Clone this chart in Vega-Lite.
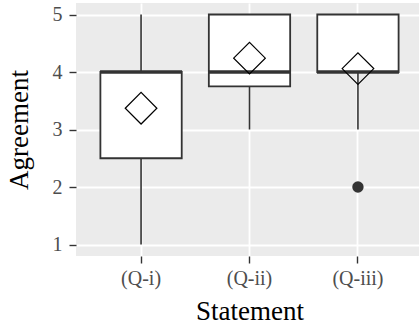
{
  "$schema": "https://vega.github.io/schema/vega-lite/v6.json",
  "width": 347,
  "height": 253,
  "autosize": {"type": "none"},
  "padding": {"left": 76, "top": 3, "right": 0, "bottom": 68},
  "background": "white",
  "config": {
    "view": {"fill": "#EBEBEB", "stroke": null},
    "font": "Liberation Serif",
    "axis": {
      "domain": false,
      "tickColor": "#333333",
      "tickWidth": 1.4,
      "tickSize": 7,
      "labelColor": "#4D4D4D",
      "labelFont": "Liberation Serif",
      "labelFontSize": 20,
      "titleFont": "Liberation Serif",
      "titleFontSize": 27,
      "titleFontWeight": "normal",
      "titleColor": "black",
      "gridColor": "white"
    }
  },
  "datasets": {
    "stats": [
      {"Statement": "(Q-i)", "lower": 1, "q1": 2.5, "median": 4, "q3": 4, "upper": 5, "mean": 3.37},
      {"Statement": "(Q-ii)", "lower": 3, "q1": 3.75, "median": 4, "q3": 5, "upper": 5, "mean": 4.24},
      {"Statement": "(Q-iii)", "lower": 3, "q1": 4, "median": 4, "q3": 5, "upper": 5, "mean": 4.06}
    ],
    "outliers": [
      {"Statement": "(Q-iii)", "value": 2}
    ]
  },
  "layer": [
    {
      "data": {"name": "stats"},
      "mark": {"type": "rule", "color": "#333333", "strokeWidth": 1.6},
      "encoding": {
        "x": {
          "field": "Statement", "type": "nominal", "sort": null,
          "scale": {"type": "band", "paddingInner": 0.25, "paddingOuter": 0.225},
          "axis": {"labelAngle": 0, "labelPadding": 5, "titlePadding": 10, "grid": true, "gridWidth": 1.8, "title": "Statement"}
        },
        "y": {
          "field": "lower", "type": "quantitative",
          "scale": {"domain": [0.8, 5.2], "nice": false, "zero": false},
          "axis": {
            "title": "Agreement",
            "values": [1, 1.5, 2, 2.5, 3, 3.5, 4, 4.5, 5],
            "format": "d",
            "labelExpr": "datum.value % 1 ? '' : datum.label",
            "tickOpacity": {"condition": {"test": "datum.value % 1", "value": 0}, "value": 1},
            "gridWidth": {"condition": {"test": "datum.value % 1", "value": 0.9}, "value": 1.8},
            "labelPadding": 7,
            "titlePadding": 19,
            "grid": true
          }
        },
        "y2": {"field": "upper"}
      }
    },
    {
      "data": {"name": "stats"},
      "mark": {"type": "bar", "fill": "white", "stroke": "#333333", "strokeWidth": 1.8},
      "encoding": {
        "x": {"field": "Statement", "type": "nominal", "sort": null},
        "y": {"field": "q1", "type": "quantitative"},
        "y2": {"field": "q3"}
      }
    },
    {
      "data": {"name": "stats"},
      "mark": {"type": "tick", "color": "#333333", "thickness": 3.6, "size": 82, "opacity": 1, "orient": "horizontal"},
      "encoding": {
        "x": {"field": "Statement", "type": "nominal", "sort": null},
        "y": {"field": "median", "type": "quantitative"}
      }
    },
    {
      "data": {"name": "stats"},
      "mark": {"type": "point", "shape": "diamond", "size": 1000, "filled": false, "stroke": "black", "strokeWidth": 1.2, "opacity": 1},
      "encoding": {
        "x": {"field": "Statement", "type": "nominal", "sort": null},
        "y": {"field": "mean", "type": "quantitative"}
      }
    },
    {
      "data": {"name": "outliers"},
      "mark": {"type": "point", "shape": "circle", "size": 130, "filled": true, "color": "#333333", "opacity": 1},
      "encoding": {
        "x": {"field": "Statement", "type": "nominal", "sort": null},
        "y": {"field": "value", "type": "quantitative"}
      }
    }
  ]
}
